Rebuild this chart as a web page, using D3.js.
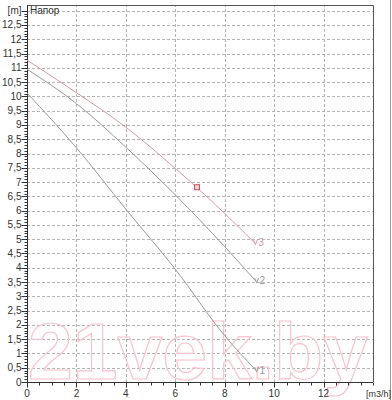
<!DOCTYPE html>
<html><head><meta charset="utf-8">
<script src="https://cdn.jsdelivr.net/npm/d3@7"></script>
<style>html,body{margin:0;padding:0;background:#fff;}svg{display:block;}</style>
</head><body>
<svg id="c" width="392" height="400"></svg>
<script>
const curve1X = [0, 2, 4, 6, 8, 9.25];
const curve1Y = [10.12, 8.2, 6.05, 3.95, 1.62, 0.42];
const curve2X = [0, 2, 4, 6, 8, 9.25];
const curve2Y = [10.95, 9.75, 8.22, 6.55, 4.74, 3.54];
const curve3X = [0, 2, 4, 6, 8, 9.2];
const curve3Y = [11.27, 10.13, 8.92, 7.48, 5.9, 4.88];
const curveLabels = ["1", "2", "3"];
const pointX = [6.88];
const pointY = [6.82];
const xTicks = [0, 2, 4, 6, 8, 10, 12];
const yTicks = d3.range(0, 13, 0.5);

const svg = d3.select("#c");
const x = d3.scaleLinear().domain([0, 14]).range([27, 373]);
const y = d3.scaleLinear().domain([0, 13.2]).range([382, 5]);
const fmt = v => String(v).replace(".", ",");
const font = "Liberation Sans, Arial, sans-serif";

// outer border line
svg.append("line").attr("x1", 390.5).attr("x2", 390.5).attr("y1", 0).attr("y2", 400).attr("stroke", "#999");

// grid
svg.append("g").selectAll("line").data(yTicks.filter(d => d > 0).concat([13])).join("line")
  .attr("x1", x(0)).attr("x2", x(14)).attr("y1", d => Math.round(y(d)) + 0.5).attr("y2", d => Math.round(y(d)) + 0.5)
  .attr("stroke", "#b4b4b4").attr("stroke-dasharray", "3,2");
svg.append("g").selectAll("line").data(xTicks.filter(d => d > 0)).join("line")
  .attr("y1", y(0)).attr("y2", y(13.2)).attr("x1", d => Math.round(x(d)) + 0.5).attr("x2", d => Math.round(x(d)) + 0.5)
  .attr("stroke", "#b4b4b4").attr("stroke-dasharray", "3,2");

// watermark
svg.append("text").attr("x", 28).attr("y", 379).attr("font-family", font).attr("font-weight", "bold")
  .attr("font-size", 80).attr("textLength", 340).attr("lengthAdjust", "spacingAndGlyphs")
  .attr("fill", "none").attr("stroke", "#f9c3cf").attr("stroke-width", 1.2).text("21vek.by");

// frame
svg.append("path").attr("d", `M${x(0)},5.5H${Math.round(x(14))+0.5}V${y(0)}`).attr("fill", "none").attr("stroke", "#555");

// y axis
const yAxis = svg.append("g").attr("transform", `translate(${x(0)+0.5},0)`);
yAxis.append("line").attr("y1", 5).attr("y2", y(0)).attr("stroke", "#333");
yAxis.selectAll(".mn").data(d3.range(0, 131).map(i => i / 10)).join("line")
  .attr("x1", -3).attr("x2", 0).attr("y1", d => Math.round(y(d)) + 0.5).attr("y2", d => Math.round(y(d)) + 0.5).attr("stroke", "#333");
yAxis.selectAll(".mj").data(yTicks.concat([13])).join("line")
  .attr("x1", -6).attr("x2", 0).attr("y1", d => Math.round(y(d)) + 0.5).attr("y2", d => Math.round(y(d)) + 0.5).attr("stroke", "#333");
yAxis.selectAll("text").data(yTicks).join("text")
  .attr("x", -6).attr("y", d => y(d)).attr("dy", "0.35em").attr("text-anchor", "end")
  .attr("font-family", font).attr("font-size", 10).attr("fill", "#333").text(fmt);
yAxis.append("text").attr("x", -6).attr("y", y(13)).attr("dy", "0.35em").attr("text-anchor", "end")
  .attr("font-family", font).attr("font-size", 10).attr("fill", "#333").text("[m]");
svg.append("text").attr("x", 30).attr("y", y(13)).attr("dy", "0.35em")
  .attr("font-family", font).attr("font-size", 10).attr("fill", "#333").text("Напор");

// x axis
const xAxis = svg.append("g").attr("transform", `translate(0,${y(0)+0.5})`);
xAxis.append("line").attr("x1", x(0)).attr("x2", x(14)).attr("stroke", "#333");
xAxis.selectAll(".mn").data(d3.range(0, 29).map(i => i / 2)).join("line")
  .attr("x1", d => Math.round(x(d)) + 0.5).attr("x2", d => Math.round(x(d)) + 0.5).attr("y1", 0).attr("y2", 3).attr("stroke", "#333");
xAxis.selectAll(".mj").data(xTicks).join("line")
  .attr("x1", d => Math.round(x(d)) + 0.5).attr("x2", d => Math.round(x(d)) + 0.5).attr("y1", 0).attr("y2", 5).attr("stroke", "#333");
xAxis.selectAll("text").data(xTicks).join("text")
  .attr("x", d => x(d)).attr("y", 14).attr("text-anchor", "middle")
  .attr("font-family", font).attr("font-size", 10).attr("fill", "#333").text(d => d);
xAxis.append("text").attr("x", 366).attr("y", 14)
  .attr("font-family", font).attr("font-size", 9).attr("fill", "#333").text("[m3/h]");

// curves
const line = d3.line().x(d => x(d[0])).y(d => y(d[1])).curve(d3.curveMonotoneX);
const series = [
  {xs: curve1X, ys: curve1Y, color: "#999999", label: curveLabels[0]},
  {xs: curve2X, ys: curve2Y, color: "#999999", label: curveLabels[1]},
  {xs: curve3X, ys: curve3Y, color: "#dc97a3", label: curveLabels[2]}
];
series.forEach(s => {
  const pts = s.xs.map((v, i) => [v, s.ys[i]]);
  svg.append("path").attr("d", line(pts)).attr("fill", "none").attr("stroke", s.color).attr("stroke-width", 1);
  const last = pts[pts.length - 1];
  const ex = x(last[0]), ey = y(last[1]);
  svg.append("path").attr("d", `M${ex-1},${ey-3}L${ex+1},${ey+2}L${ex+3},${ey-3}`).attr("fill", "none").attr("stroke", s.color);
  svg.append("text").attr("x", ex + 4).attr("y", ey).attr("dy", "0.35em")
    .attr("font-family", font).attr("font-size", 10).attr("fill", s.color).text(s.label);
});

// operating point
svg.selectAll(".pt").data(pointX.map((v, i) => [v, pointY[i]])).join("rect")
  .attr("x", d => x(d[0]) - 2.5).attr("y", d => y(d[1]) - 2.5).attr("width", 5).attr("height", 5)
  .attr("fill", "#f4d0d6").attr("stroke", "#c8505f");
</script>
</body></html>
